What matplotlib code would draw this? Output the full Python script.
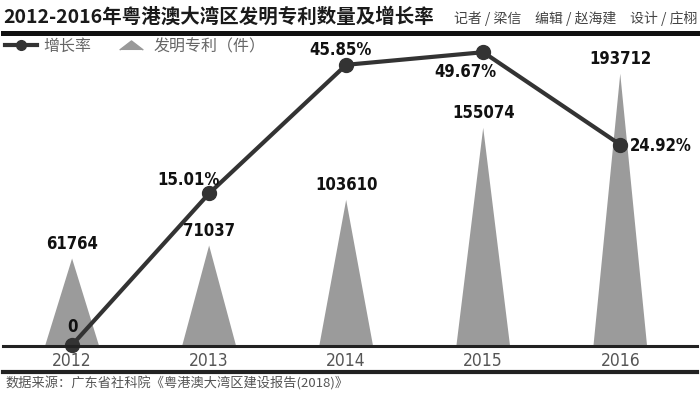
import numpy as np
import matplotlib
matplotlib.use('Agg')
import matplotlib.pyplot as plt
from matplotlib.lines import Line2D

plt.rcParams['font.family'] = ['Noto Sans CJK SC', 'DejaVu Sans']

# data
years = ['2012', '2013', '2014', '2015', '2016']
patents = [61764, 71037, 103610, 155074, 193712]
growth = [0, 15.01, 45.85, 49.67, 24.92]
growth_labels = ['0', '15.01%', '45.85%', '49.67%', '24.92%']

title = '2012-2016年粤港澳大湾区发明专利数量及增长率'
credits = '记者 / 梁信　编辑 / 赵海建　设计 / 庄栩'
source = '数据来源：广东省社科院《粤港澳大湾区建设报告(2018)》'

# label offsets (points) for the growth labels
g_off = [(0, 13), (-15, 10), (-4, 11), (-13, -14), (29, -1)]

num_kw = dict(family=['DejaVu Sans'], stretch='condensed')

W, H = 700, 395
fig = plt.figure(figsize=(W / 100, H / 100), dpi=100)
fig.patch.set_facecolor('white')

ax = fig.add_axes([3 / W, (H - 345) / H, 694 / W, 305 / H])
ax.set_xlim(-0.504, 4.56)
ax.set_ylim(0, 217800)
x = np.arange(len(years))

hw = 0.195
for xi, v in zip(x, patents):
    ax.fill([xi - hw, xi, xi + hw], [0, v, 0], color='#9b9b9b', lw=0)
    ax.annotate(f'{v}', (xi, v), xytext=(0, 4), textcoords='offset points',
                ha='center', va='bottom', fontsize=12, weight='bold',
                color='#111', **num_kw)

ax.set_xticks(x)
ax.set_xticklabels(years, fontsize=12.5, color='#555', **num_kw)
ax.tick_params(axis='x', length=0, pad=5)
ax.set_yticks([])
for s in ax.spines.values():
    s.set_visible(False)

# growth rate on its own (compressed) scale, as in the original artwork
ax2 = ax.twinx()
p = 0.55
ax2.set_yscale('function', functions=(lambda v: np.sign(v) * np.abs(v) ** p,
                                      lambda v: np.sign(v) * np.abs(v) ** (1 / p)))
ax2.set_ylim(0, 53.5)
ax2.plot(x, growth, color='#333', lw=3, marker='o', ms=10, clip_on=False, zorder=3)
for xi, v, t, off in zip(x, growth, growth_labels, g_off):
    ax2.annotate(t, (xi, v), xytext=off, textcoords='offset points',
                 ha='center', va='center', fontsize=12, weight='bold',
                 color='#111', **num_kw)
ax2.set_yticks([])
for s in ax2.spines.values():
    s.set_visible(False)

# rules
fig.add_artist(Line2D([3 / W, 697 / W], [1 - 32.5 / H] * 2, color='#111', lw=3.6))
fig.add_artist(Line2D([3 / W, 697 / W], [1 - 346 / H] * 2, color='#222', lw=2.2))
fig.add_artist(Line2D([3 / W, 697 / W], [1 - 371.5 / H] * 2, color='#222', lw=3))

fig.text(3 / W, 1 - 17 / H, title, fontsize=14, weight='bold', va='center', color='#1a1a1a')
fig.text(697 / W, 1 - 19 / H, credits, fontsize=10, ha='right', va='center', color='#444')
fig.text(5 / W, 1 - 383 / H, source, fontsize=9.5, va='center', color='#555')

handles = [
    Line2D([], [], color='#333', lw=3, marker='o', ms=7),
    Line2D([], [], ls='none', marker=[(-1.3, -0.5), (0, 0.5), (1.3, -0.5)],
           color='#999', ms=17),
]
fig.legend(handles, ['增长率', '发明专利（件）'], loc='upper left',
           bbox_to_anchor=(5 / W, 1 - 38 / H), ncol=2, frameon=False,
           fontsize=11.5, labelcolor='#666', handlelength=2.0,
           handletextpad=0.4, columnspacing=1.5, borderaxespad=0, borderpad=0)

fig.savefig('out.png', dpi=100, facecolor='white')
